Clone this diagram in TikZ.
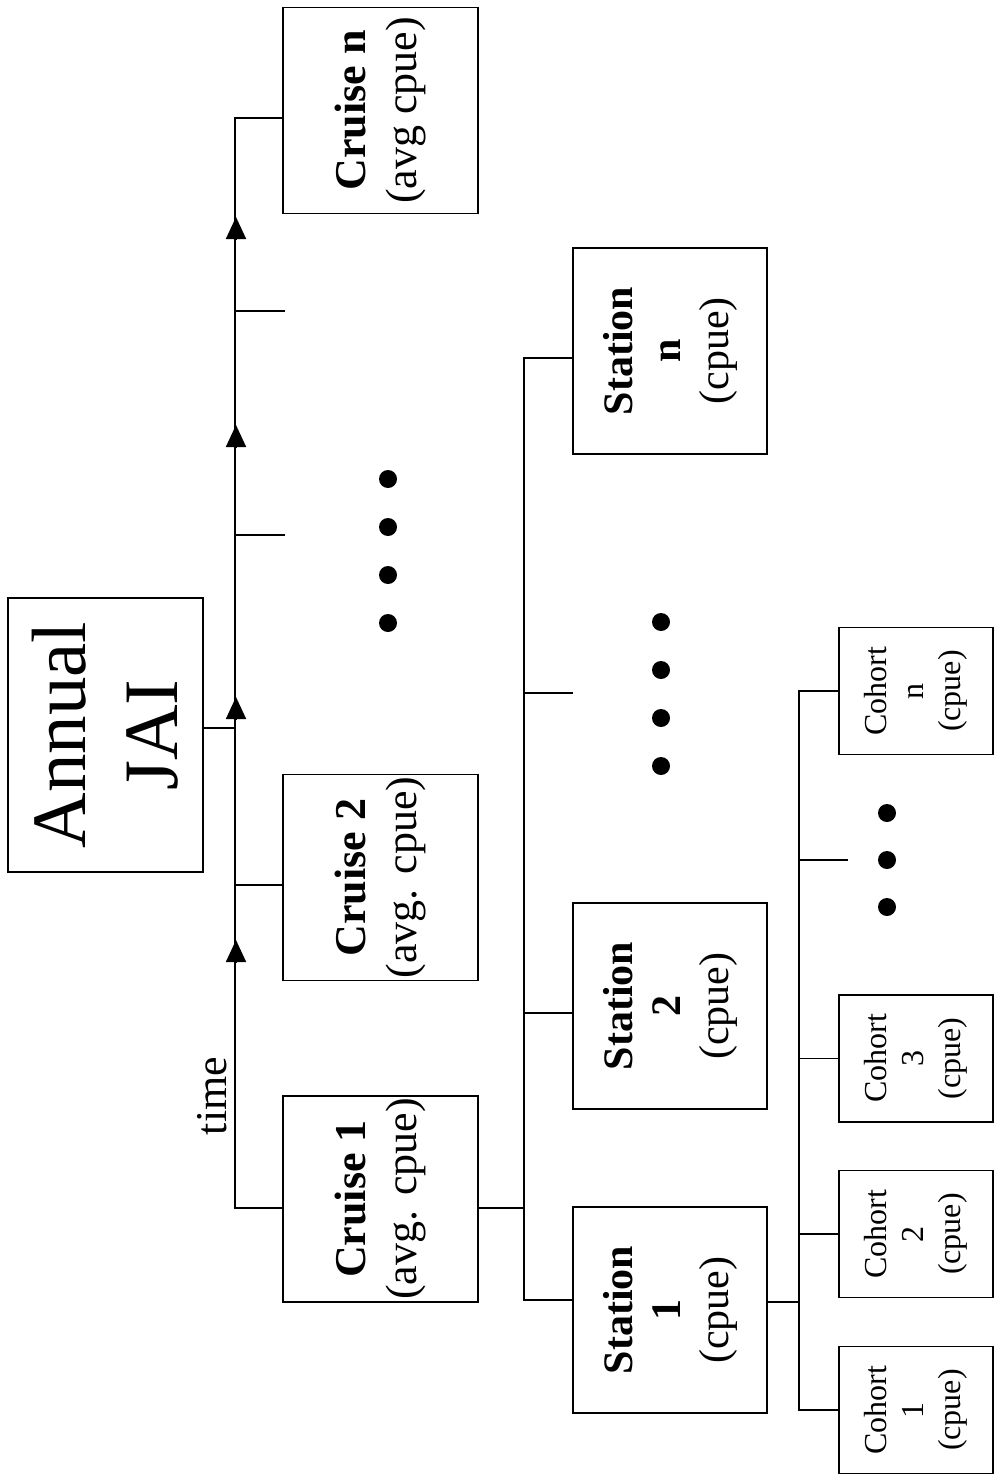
\documentclass[tikz,border=0pt]{standalone}
\usepackage{fontspec}
\setmainfont{Liberation Serif}
\usetikzlibrary{arrows.meta}
\tikzset{box/.style={draw,line width=1.8pt,rotate=90,align=center,inner sep=0pt},
         cruise/.style={box,minimum width=206pt,minimum height=195pt,
                        font=\fontsize{44}{51}\selectfont},
         station/.style={box,minimum width=206pt,minimum height=194pt,
                        font=\fontsize{42}{48}\selectfont},
         cohort/.style={box,minimum width=127pt,minimum height=154pt,
                        font=\fontsize{32}{37}\selectfont},
         annual/.style={box,minimum width=274pt,minimum height=195pt,
                        font=\fontsize{77}{92}\selectfont},
         link/.style={draw,line width=1.8pt},
         arr/.style={link,-{Triangle[width=20pt,length=22pt]}},
         dot/.style={fill,circle,inner sep=0pt,minimum size=18pt}}

\begin{document}
\begin{tikzpicture}[x=1pt,y=-1pt]
\useasboundingbox (0,0) rectangle (999,1482);
\coordinate (tbus) at (236,0);
\coordinate (sbus) at (525,0);
\coordinate (hbus) at (799,0);
\coordinate (ct1) at (285,311);
\coordinate (ct2) at (285,535);
\coordinate (st) at (573,693);
\coordinate (ht) at (848,860);

\node[annual] (jai) at (105.5,735) {Annual\\JAI};
\node[rotate=90,font=\fontsize{44}{50}\selectfont] (time) at (212,1096) {time};

\node[cruise] (c1) at (380.5,1199) {\textbf{Cruise 1}\\(avg. cpue)};
\node[cruise] (c2) at (380.5,877.5) {\textbf{Cruise 2}\\(avg. cpue)};
\node[cruise] (cn) at (380.5,110.5) {\textbf{Cruise n}\\(avg cpue)};

\node[station] (s1) at (670,1310) {\textbf{Station}\\\textbf{1}\\(cpue)};
\node[station] (s2) at (670,1006) {\textbf{Station}\\\textbf{2}\\(cpue)};
\node[station] (sn) at (670,351) {\textbf{Station}\\\textbf{n}\\(cpue)};

\node[cohort] (h1) at (916,1410) {Cohort\\1\\(cpue)};
\node[cohort] (h2) at (916,1234) {Cohort\\2\\(cpue)};
\node[cohort] (h3) at (916,1058.5) {Cohort\\3\\(cpue)};
\node[cohort] (hn) at (916,691) {Cohort\\n\\(cpue)};

\foreach \y [count=\i] in {479,527,575,623}
  \node[dot] (cdot\i) at (388,\y) {};
\foreach \y [count=\i] in {622,670,718,766}
  \node[dot] (sdot\i) at (661,\y) {};
\foreach \y [count=\i] in {813,860,907}
  \node[dot] (hdot\i) at (887,\y) {};

\draw[link] ([yshift=-9pt]c1.north) -- ++(-47,0) |- ([yshift=-7.5pt]cn.north);
\draw[link] ([yshift=-7.5pt]c2.north) -- ++(-47,0);
\draw[link] ([yshift=7pt]jai.south) -- ++(32.5,0);
\draw[link] (ct1 -| tbus) -- (ct1);
\draw[link] (ct2 -| tbus) -- (ct2);
\foreach \y in {940,697,425,217}
  \draw[arr] (236,\y+22) -- (236,\y);

\draw[link] ([yshift=-9pt]c1.south) -- ++(46.5,0);
\draw[link] ([yshift=10pt]s1.north) -- ++(-48,0) |- ([yshift=-7pt]sn.north);
\draw[link] ([yshift=-7pt]s2.north) -- ++(-48,0);
\draw[link] (st -| sbus) -- (st);

\draw[link] ([yshift=8pt]s1.south) -- ++(32,0);
\draw[link] (h1.north) -| (hbus |- hn.north) -- (hn.north);
\draw[link] (h2.north) -- (h2.north -| hbus);
\draw[link] (h3.north) -- (h3.north -| hbus);
\draw[link] (ht -| hbus) -- (ht);
\end{tikzpicture}
\end{document}
